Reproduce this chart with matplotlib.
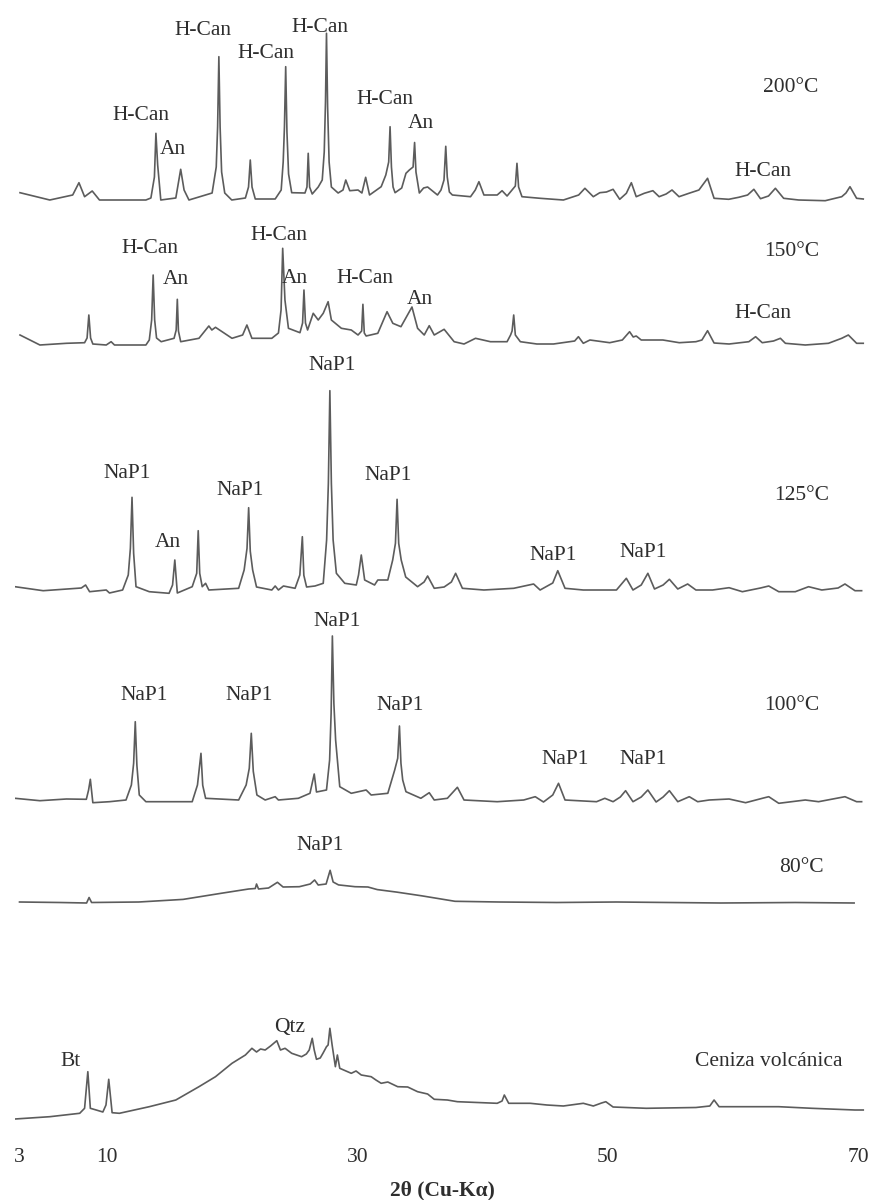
import matplotlib
matplotlib.use("Agg")
import matplotlib.pyplot as plt

plt.rcParams['font.family'] = ['Liberation Serif', 'DejaVu Serif']

# ---------------- data: (2theta [deg], intensity [a.u.]) ----------------
pat_200 = [(3.04, 9.3), (5.42, 2), (7.25, 7), (7.75, 19.3), (8.20, 5.3), (8.81, 11), (9.39, 2),
           (13.10, 2), (13.50, 4), (13.78, 25), (13.90, 68.7), (14.04, 37), (14.29, 2),
           (15.49, 4), (15.88, 32.7), (16.15, 12), (16.54, 2),
           (18.39, 9), (18.72, 35), (18.83, 75), (18.93, 145.3), (19.03, 75), (19.15, 30), (19.40, 9),
           (19.96, 2), (21.05, 4), (21.30, 15), (21.44, 42), (21.58, 15), (21.84, 3),
           (23.43, 3), (23.91, 12), (24.07, 40), (24.17, 75), (24.27, 135.3), (24.37, 70), (24.50, 28),
           (24.75, 9.3), (25.81, 9), (25.97, 15), (26.07, 48.7), (26.18, 15), (26.39, 8),
           (26.87, 15), (27.19, 22), (27.35, 50), (27.45, 100), (27.53, 168.7), (27.62, 95), (27.74, 40),
           (27.92, 15), (28.46, 9), (28.85, 12), (29.07, 22), (29.39, 11.3), (30.05, 12), (30.36, 9),
           (30.66, 24.7), (30.97, 7), (31.90, 15.3), (32.27, 27), (32.50, 40), (32.61, 75.3), (32.72, 35),
           (32.85, 15), (33.01, 9.3), (33.54, 14), (33.88, 28.7), (34.15, 32), (34.45, 35), (34.57, 59.5),
           (34.68, 30), (34.95, 9), (35.29, 14), (35.61, 15), (36.40, 7), (36.68, 12), (36.92, 22),
           (37.06, 55.7), (37.18, 25), (37.35, 10), (37.59, 7), (39.04, 5.3), (39.42, 12), (39.71, 20.3),
           (40.11, 7), (41.17, 7), (41.56, 11.3), (41.96, 6), (42.36, 12), (42.62, 16), (42.75, 38.7),
           (42.88, 15), (43.15, 5.3), (44.60, 3.7), (46.46, 2), (47.68, 7), (48.18, 13.7), (48.85, 5.3),
           (49.37, 9.3), (49.90, 10), (50.43, 12.7), (50.96, 2.7), (51.49, 8.7), (51.89, 19.3), (52.28, 5.3),
           (52.92, 8.7), (53.61, 11.3), (54.11, 5.3), (54.67, 8), (55.14, 12), (55.70, 5.3), (56.49, 8.7),
           (57.29, 12), (57.98, 23.7), (58.50, 3.7), (59.67, 2.7), (60.47, 4.7), (61.18, 7), (61.68, 12.7),
           (62.21, 3.3), (62.85, 6), (63.40, 13.7), (64.06, 3.7), (65.26, 2), (67.38, 1.3), (68.70, 5.3),
           (69.04, 9), (69.36, 15.3), (69.89, 3.7), (70.42, 3)]

pat_150 = [(3.04, 10), (4.63, 0), (6.75, 1.7), (8.20, 2.3), (8.40, 7), (8.54, 30), (8.68, 7), (8.86, 1),
           (9.93, 0), (10.32, 3.3), (10.59, 0), (13.10, 0), (13.37, 5), (13.56, 25), (13.68, 70), (13.80, 25),
           (13.95, 7), (14.32, 3.3), (15.35, 6.7), (15.52, 15), (15.61, 45.7), (15.70, 14), (15.88, 3.3),
           (17.34, 6.7), (18.13, 19), (18.37, 15), (18.66, 17.7), (19.98, 6.7), (20.83, 10), (21.17, 20),
           (21.57, 6.7), (23.16, 6.7), (23.69, 12), (23.90, 35), (24.03, 96.7), (24.21, 45), (24.49, 16.7),
           (25.41, 12.3), (25.62, 22), (25.73, 55), (25.85, 22), (26.02, 15), (26.47, 31.7), (26.87, 25),
           (27.27, 31.7), (27.66, 43.3), (27.92, 25), (28.72, 16.7), (29.51, 15), (30.05, 10), (30.34, 14),
           (30.44, 40.7), (30.55, 12), (30.70, 9), (31.63, 11.7), (32.37, 33.3), (32.83, 21.7), (33.48, 18.3),
           (34.36, 38), (34.81, 16.7), (35.34, 10), (35.74, 19.3), (36.14, 10), (36.93, 15.7), (37.73, 3.3),
           (38.52, 1), (39.44, 6.7), (40.63, 3.3), (41.96, 3.3), (42.24, 10), (42.36, 14), (42.49, 30),
           (42.62, 10), (43.02, 3.3), (44.34, 1), (45.67, 1), (47.36, 4), (47.66, 8.3), (48.05, 1.7),
           (48.58, 5), (50.16, 2.3), (51.17, 5), (51.75, 13.3), (52.04, 8), (52.28, 9), (52.68, 5),
           (54.41, 5), (55.72, 2.3), (57.05, 3.3), (57.53, 5), (57.98, 14.3), (58.50, 2), (59.70, 1),
           (61.28, 3.3), (61.82, 8.3), (62.35, 2.3), (63.25, 4), (63.80, 6.7), (64.20, 1.7), (65.79, 0),
           (67.64, 1.7), (68.70, 6.7), (69.23, 10), (69.89, 1.7), (70.42, 1.7)]

pat_125 = [(2.64, 6.6), (4.89, 2.6), (7.94, 5.3), (8.28, 8.3), (8.60, 1.6), (9.93, 3.3), (10.19, 0.3),
           (11.24, 3.3), (11.69, 18.3), (11.86, 45), (11.99, 96), (12.12, 40), (12.31, 6.6), (13.37, 1.6),
           (14.95, 0), (15.23, 8.3), (15.41, 33.3), (15.61, 0.3), (16.80, 6.6), (17.16, 20), (17.28, 62.6),
           (17.40, 20), (17.60, 6.6), (17.87, 10), (18.13, 3.3), (20.51, 5), (20.95, 23.3), (21.18, 45),
           (21.31, 85.6), (21.44, 42), (21.63, 23.3), (21.94, 6.3), (23.16, 3.3), (23.43, 7.3), (23.69, 3.3),
           (24.09, 7.3), (25.02, 5), (25.40, 18.3), (25.60, 56.6), (25.72, 18), (25.94, 6.3), (26.61, 7.3),
           (27.27, 10), (27.54, 53.3), (27.68, 110), (27.80, 202.6), (27.92, 110), (28.06, 53.3), (28.32, 20),
           (28.99, 10), (29.91, 8.3), (30.09, 18.3), (30.31, 38.3), (30.58, 13.3), (31.37, 8.3), (31.63, 13.3),
           (32.43, 13.3), (32.82, 33.3), (33.04, 50), (33.17, 94), (33.30, 50), (33.50, 33.3), (33.86, 16.3),
           (34.81, 6.6), (35.33, 11.3), (35.61, 17.3), (36.14, 5), (36.93, 6.3), (37.51, 11.3), (37.85, 20),
           (38.39, 5), (40.11, 3.3), (42.49, 5), (44.08, 9.3), (44.60, 3.3), (45.61, 10.3), (46.01, 22.6),
           (46.59, 5), (48.05, 3.3), (49.64, 3.3), (50.70, 3.3), (51.49, 15), (52.02, 3.3), (52.68, 8.3),
           (53.21, 20), (53.74, 4.3), (54.43, 8.3), (54.93, 14), (55.60, 4.3), (56.39, 9.3), (57.05, 3.3),
           (58.38, 3.3), (59.70, 5.6), (60.76, 1.6), (62.21, 5.3), (62.87, 7.3), (63.67, 1.6), (64.99, 1.6),
           (66.05, 6.6), (67.11, 3.3), (68.41, 5.3), (68.96, 9.3), (69.76, 2.6), (70.29, 2.6)]

pat_100 = [(2.64, 5), (4.63, 2.6), (6.75, 4.3), (8.34, 4), (8.52, 13.3), (8.66, 24), (8.86, 0.6),
           (10.19, 1.6), (11.51, 3.3), (11.94, 18.3), (12.12, 40), (12.25, 81.6), (12.38, 38), (12.57, 8.3),
           (13.10, 1.6), (16.80, 1.6), (17.22, 18.3), (17.50, 50), (17.64, 18), (17.87, 5), (20.51, 3.3),
           (21.11, 18.3), (21.36, 35), (21.52, 70), (21.68, 32), (21.97, 8.3), (22.63, 3.3), (23.43, 6.6),
           (23.69, 3.3), (25.28, 5), (26.21, 10), (26.55, 29.3), (26.73, 11.3), (27.53, 13.3), (27.78, 43.3),
           (27.90, 90), (28.00, 167.3), (28.12, 100), (28.26, 63.3), (28.59, 16.6), (29.51, 10), (30.70, 13.3),
           (31.10, 8.3), (32.43, 10), (32.98, 33.3), (33.22, 45), (33.36, 77.3), (33.48, 40), (33.62, 23.3),
           (33.88, 11.6), (35.07, 5), (35.74, 10.6), (36.14, 3.3), (37.19, 5), (37.99, 16), (38.52, 3.3),
           (41.17, 1.6), (43.29, 3.3), (44.21, 6.6), (44.87, 1.3), (45.61, 8.3), (46.07, 20), (46.59, 3.3),
           (49.11, 1.6), (49.77, 5), (50.43, 1.6), (51.01, 6.3), (51.43, 12.6), (52.02, 1.6), (52.68, 6.3),
           (53.21, 13.3), (53.87, 1.3), (54.43, 6.3), (54.93, 12.6), (55.60, 1.6), (56.52, 6.6), (57.19, 1.6),
           (58.11, 3.3), (59.70, 4.3), (61.02, 0.6), (62.45, 5.3), (62.87, 6.6), (63.67, 0), (65.79, 3.3),
           (66.85, 1.6), (68.41, 5.3), (68.96, 6.6), (69.89, 1.6), (70.29, 1.6)]

pat_80 = [(3.00, 1), (6.22, 0.5), (8.36, 0), (8.56, 5.5), (8.76, 0.5), (12.53, 1), (16.07, 3.6), (19.16, 9.8),
          (21.31, 14), (21.84, 14.5), (21.94, 19), (22.10, 14), (22.90, 15), (23.61, 20.7), (24.06, 16),
          (25.36, 16.3), (26.23, 19), (26.58, 23), (26.87, 18), (27.50, 19), (27.82, 32.7), (28.06, 21),
          (28.49, 18.1), (29.81, 16.3), (30.84, 16), (31.59, 13.4), (33.14, 10.9), (35.13, 7.2), (37.80, 1.7),
          (41.32, 1), (45.93, 0.5), (50.70, 1), (59.04, 0), (65.00, 0.5), (69.69, 0)]

pat_ash = [(2.64, 0.3), (5.42, 2.6), (7.81, 6), (8.20, 11), (8.46, 47.6), (8.66, 11), (9.13, 9.3), (9.66, 7.3),
           (9.91, 14.3), (10.13, 40), (10.40, 6.6), (10.98, 6), (13.37, 12.6), (15.49, 19.3), (17.34, 32.6),
           (18.66, 42.6), (19.98, 56), (21.05, 64.3), (21.57, 71), (21.94, 67.3), (22.26, 70.3), (22.63, 69.3),
           (23.06, 73.3), (23.56, 78.6), (23.85, 69.3), (24.22, 71), (24.75, 66), (25.54, 62.6), (25.92, 65.3),
           (26.15, 69.3), (26.39, 81), (26.55, 69.3), (26.73, 60), (27.03, 61.3), (27.26, 66.3), (27.53, 72.6),
           (27.66, 74.3), (27.80, 91), (27.98, 74.3), (28.24, 52.6), (28.40, 64.3), (28.59, 51), (29.51, 46),
           (29.89, 48.3), (30.31, 44.3), (31.10, 42.6), (31.48, 39.3), (31.90, 36), (32.43, 37.3), (33.22, 32.6),
           (34.02, 32.3), (34.81, 27.6), (35.61, 25.3), (36.14, 20), (37.19, 19.3), (37.99, 17.6), (41.17, 16),
           (41.56, 18.3), (41.74, 24.3), (42.09, 16), (43.81, 16), (45.14, 14.3), (46.46, 13.3), (48.05, 16),
           (48.85, 13.3), (49.51, 16.3), (49.85, 17.6), (50.43, 12.3), (53.08, 11), (57.05, 11.8), (58.16, 13.3),
           (58.50, 19.3), (58.90, 12.6), (61.02, 12.6), (63.67, 12.6), (66.32, 11), (69.76, 9.3), (70.42, 9.3)]

sample_names = ['200°C', '150°C', '125°C', '100°C', '80°C', 'Ceniza volcánica']
x_ticks = [3, 10, 30, 50, 70]

# phase labels: (text, 2theta, height)
labels_200 = [('H-Can', 12.71, 1019), ('An', 15.22, 985), ('H-Can', 17.65, 1104.3), ('H-Can', 22.70, 1081.7),
              ('H-Can', 27.03, 1107.7), ('H-Can', 32.23, 1035.7), ('An', 35.05, 1011.7), ('H-Can', 62.37, 963.3)]
labels_150 = [('H-Can', 13.41, 886.7), ('An', 15.51, 855), ('H-Can', 23.77, 900), ('An', 25.02, 856.7),
              ('H-Can', 30.58, 856.7), ('An', 35.01, 835), ('H-Can', 62.37, 821.7)]
labels_125 = [('NaP1', 11.58, 661.7), ('An', 14.83, 592.3), ('NaP1', 20.62, 644.3), ('NaP1', 27.98, 770),
              ('NaP1', 32.43, 660), ('NaP1', 45.61, 580), ('NaP1', 52.82, 582.3)]
labels_100 = [('NaP1', 12.94, 440), ('NaP1', 21.37, 440), ('NaP1', 28.38, 513.3), ('NaP1', 33.42, 429),
              ('NaP1', 46.62, 375.7), ('NaP1', 52.84, 375.7)]
labels_80 = [('NaP1', 27.03, 289)]
labels_ash = [('Bt', 7.07, 73.3), ('Qtz', 24.55, 107.7)]

# ---------------- layout ----------------
offsets = [933, 790, 541.7, 331.7, 232, 15.7]
name_pos = [(64.60, 1047.7), (64.68, 883.3), (65.53, 640), (64.68, 429), (65.47, 267), (62.87, 73.3)]

line_color = '#5c5c5c'
text_color = '#2e2e2e'
fs = 15.5

fig = plt.figure(figsize=(8.75, 12), dpi=100)
ax = fig.add_axes([15 / 875, 65 / 1200, 855 / 875, 1135 / 1200])
ax.set_xlim(2.64, 70.96)
ax.set_ylim(0, 1135)

patterns = [pat_200, pat_150, pat_125, pat_100, pat_80, pat_ash]
for pat, off in zip(patterns, offsets):
    xx = [p[0] for p in pat]
    yy = [p[1] + off for p in pat]
    ax.plot(xx, yy, color=line_color, lw=1.2, solid_joinstyle='round')

for lab_set in [labels_200, labels_150, labels_125, labels_100, labels_80, labels_ash]:
    for txt, xv, yv in lab_set:
        ax.text(xv, yv, txt, ha='center', va='center', fontsize=fs, color=text_color)

for name, (xv, yv) in zip(sample_names, name_pos):
    ax.text(xv, yv, name, ha='center', va='center', fontsize=fs, color=text_color)

ax.set_xticks(x_ticks)
ax.set_xticklabels([str(t) for t in x_ticks], fontsize=fs, color=text_color)
ax.tick_params(axis='x', length=0, pad=9)
ax.set_yticks([])
for sp in ax.spines.values():
    sp.set_visible(False)
ax.set_xlabel('2θ (Cu-Kα)', fontsize=fs, fontweight='bold', color=text_color, labelpad=10)

fig.savefig('out.png', dpi=100, facecolor='white')
